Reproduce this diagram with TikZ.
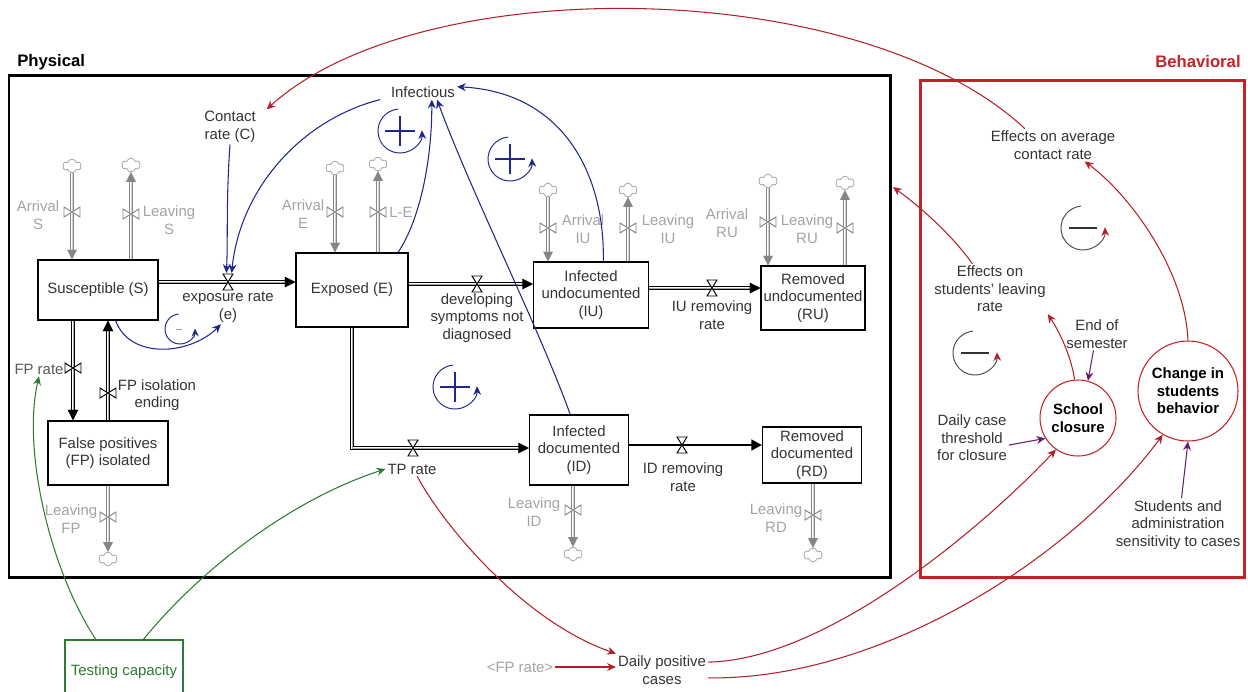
\documentclass[tikz,border=0pt]{standalone}
\usepackage{fontspec}
\setmainfont{Liberation Sans}
\usetikzlibrary{arrows.meta,shapes.symbols}
\definecolor{navy}{HTML}{1F268C}
\definecolor{crim}{HTML}{B51F2B}
\definecolor{boxred}{HTML}{C62127}
\definecolor{grn}{HTML}{2F7A32}
\definecolor{plum}{HTML}{6A1C6E}
\definecolor{txt}{HTML}{333333}
\definecolor{lgray}{HTML}{A3A3A3}
\definecolor{pgray}{HTML}{858585}

\begin{document}
\begin{tikzpicture}[
    x=0.02cm, y=-0.02cm,
    fs/.style={font=\fontsize{8.5}{10}\selectfont},
    stock/.style={rectangle,draw,line width=0.6pt,align=center,inner sep=1pt,fs,text=txt},
    lbl/.style={align=center,inner sep=1pt,fs,text=txt},
    glbl/.style={align=center,inner sep=1pt,fs,text=lgray},
    circ/.style={circle,draw=boxred,line width=0.6pt,align=center,inner sep=0pt,font=\fontsize{8.5}{10}\selectfont\bfseries},
    ttl/.style={inner sep=0pt,font=\fontsize{9.5}{11}\selectfont\bfseries},
    puff/.style={cloud,cloud puffs=6,draw=lgray,line width=0.45pt,aspect=1.3,inner sep=0pt,minimum width=0.36cm,minimum height=0.27cm},
    pipe/.style={draw=black,line width=2.4pt,shorten >=3pt,
        postaction={draw=white,line width=1.3pt,shorten >=3pt},
        postaction={draw=black,line width=0.01pt,shorten >=0pt,-{Triangle[length=6pt,width=6pt]}}},
    gpipe/.style={draw=pgray,line width=2.3pt,shorten >=3pt,
        postaction={draw=white,line width=1.1pt,shorten >=3pt},
        postaction={draw=pgray,line width=0.01pt,shorten >=0pt,-{Triangle[length=5.5pt,width=5.5pt]}}},
    thk/.style={line width=1.5pt,-{Triangle[length=6pt,width=6pt]}},
    lnk/.style={line width=0.6pt,-{Stealth[length=5pt,width=4.5pt]}},
    vlvh/.pic={\filldraw[fill=white,line width=0.55pt] (-5,-8) -- (5,-8) -- (-5,8) -- (5,8) -- cycle;},
    vlvv/.pic={\filldraw[fill=white,line width=0.55pt] (-8,-5) -- (-8,5) -- (8,-5) -- (8,5) -- cycle;},
    lplus/.pic={\draw[line width=0.55pt,-{Stealth[length=5pt,width=4.5pt]}] (-95:22) arc[start angle=-95,end angle=-362,radius=22];
        \draw[line width=0.7pt] (-15,0) -- (15,0) (0,-15) -- (0,15);},
    lminus/.pic={\draw[black!70,line width=0.55pt,-{Stealth[length=5pt,width=4.5pt,color=crim]}] (-95:22) arc[start angle=-95,end angle=-362,radius=22];
        \draw[black!80,line width=0.6pt] (-14,0) -- (14,0);},
    lsmall/.pic={\draw[navy,line width=0.55pt,-{Stealth[length=4.5pt,width=4pt]}] (-95:15) arc[start angle=-95,end angle=-362,radius=15];
        \draw[lgray,line width=0.5pt] (-4,0) -- (2,0);}
]
\useasboundingbox (0,0) rectangle (1248,691);

\node[ttl,anchor=west] (tphys) at (17,62) {Physical};
\node[ttl,anchor=east,text=boxred] (tbeh) at (1241,62) {Behavioral};
\draw[line width=1.7pt] (9,75) rectangle (890,577);
\draw[boxred,line width=1.7pt] (920,80) rectangle (1244,577);
\coordinate (physR) at (893,187);

\node[stock,minimum width=2.4cm,minimum height=1.2cm] (S) at (98,290) {Susceptible (S)};
\node[stock,minimum width=2.24cm,minimum height=1.48cm] (E) at (352,290) {Exposed (E)};
\node[stock,minimum width=2.3cm,minimum height=1.32cm] (IU) at (591,295) {Infected\\undocumented\\(IU)};
\node[stock,minimum width=2.08cm,minimum height=1.28cm] (RU) at (813,298) {Removed\\undocumented\\(RU)};
\node[stock,minimum width=2.4cm,minimum height=1.28cm] (FP) at (108,453) {False positives\\(FP) isolated};
\node[stock,minimum width=1.98cm,minimum height=1.4cm] (ID) at (579,450) {Infected\\documented\\(ID)};
\node[stock,minimum width=1.98cm,minimum height=1.12cm] (RD) at (812,455) {Removed\\documented\\(RD)};

\coordinate (ve) at (228,282);
\coordinate (veT) at (229,273);
\coordinate (vd) at (477,284);
\coordinate (vi) at (712,288);
\coordinate (vt) at (413,448);
\coordinate (vr) at (682,445);
\coordinate (vf) at (73,368);
\coordinate (vx) at (108,393);

\draw[pipe] (S.east |- ve) -- (E.west |- ve);
\draw[pipe] (E.east |- vd) -- (IU.west |- vd);
\draw[pipe] (IU.east |- vi) -- (RU.west |- vi);
\draw[pipe] (E.south) |- (ID.west |- vt);
\draw[thk] (ID.east |- vr) -- (RD.west |- vr);
\draw[pipe] (S.south -| vf) -- (FP.north -| vf);
\draw[pipe] (FP.north -| vx) -- (S.south -| vx);
\pic at (ve) {vlvh};
\pic at (vd) {vlvh};
\pic at (vi) {vlvh};
\pic at (vt) {vlvh};
\pic at (vr) {vlvh};
\pic at (vf) {vlvv};
\pic at (vx) {vlvv};

\node[puff] (cAS) at (72,166) {};
\node[puff] (cLS) at (131,165) {};
\node[puff] (cAE) at (335,168) {};
\node[puff] (cLE) at (378,164) {};
\node[puff] (cAIU) at (548,190) {};
\node[puff] (cLIU) at (628,190) {};
\node[puff] (cARU) at (768,181) {};
\node[puff] (cLRU) at (845,183) {};
\node[puff] (cLFP) at (108,559) {};
\node[puff] (cLID) at (573,554) {};
\node[puff] (cLRD) at (813,555) {};

\draw[gpipe] (cAS.south) -- (cAS.south |- S.north);
\draw[gpipe] (S.north -| cLS) -- (cLS.south);
\draw[gpipe] (cAE.south) -- (cAE.south |- E.north);
\draw[gpipe] (E.north -| cLE) -- (cLE.south);
\draw[gpipe] (cAIU.south) -- (cAIU.south |- IU.north);
\draw[gpipe] (IU.north -| cLIU) -- (cLIU.south);
\draw[gpipe] (cARU.south) -- (cARU.south |- RU.north);
\draw[gpipe] (RU.north -| cLRU) -- (cLRU.south);
\draw[gpipe] (FP.south -| cLFP) -- (cLFP.north);
\draw[gpipe] (ID.south -| cLID) -- (cLID.north);
\draw[gpipe] (RD.south -| cLRD) -- (cLRD.north);
\pic[pgray] at (72,212) {vlvv};
\pic[pgray] at (131,214) {vlvv};
\pic[pgray] at (335,212) {vlvv};
\pic[pgray] at (378,212) {vlvv};
\pic[pgray] at (548,228) {vlvv};
\pic[pgray] at (628,228) {vlvv};
\pic[pgray] at (768,222) {vlvv};
\pic[pgray] at (845,228) {vlvv};
\pic[pgray] at (108,517) {vlvv};
\pic[pgray] at (573,510) {vlvv};
\pic[pgray] at (813,515) {vlvv};

\node[glbl] (lAS) at (38,215) {Arrival\\S};
\node[glbl] (lLS) at (169,220) {Leaving\\S};
\node[glbl] (lAE) at (303,214) {Arrival\\E};
\node[glbl] (lLE) at (401,212) {L-E};
\node[glbl] (lAIU) at (583,229) {Arrival\\IU};
\node[glbl] (lLIU) at (668,229) {Leaving\\IU};
\node[glbl] (lARU) at (727,223) {Arrival\\RU};
\node[glbl] (lLRU) at (807,229) {Leaving\\RU};
\node[glbl] (lLFP) at (71,519) {Leaving\\FP};
\node[glbl] (lLID) at (534,512) {Leaving\\ID};
\node[glbl] (lLRD) at (776,518) {Leaving\\RD};

\node[lbl] (er) at (228,307) {exposure rate\\(e)};
\node[lbl] (dsn) at (477,318) {developing\\symptoms not\\diagnosed};
\node[lbl] (iur) at (712,315) {IU removing\\rate};
\node[lbl] (tpr) at (412,469) {TP rate};
\node[lbl] (idr) at (683,477) {ID removing\\rate};
\node[lbl,text=black!65] (fpr) at (39,369) {FP rate};
\node[lbl] (fpe) at (157,395) {FP isolation\\ending};
\node[lbl] (cr) at (230,127) {Contact\\rate (C)};
\node[lbl] (inf) at (423,92) {Infectious};

\node[lbl] (eac) at (1053,145) {Effects on average\\contact rate};
\node[lbl] (esl) at (990,289) {Effects on\\students' leaving\\rate};
\node[lbl] (eos) at (1097,334) {End of\\semester};
\node[lbl] (dct) at (972,438) {Daily case\\threshold\\for closure};
\node[lbl] (sas) at (1178,525) {Students and\\administration\\sensitivity to cases};
\node[circ,minimum size=1.52cm] (sc) at (1078,418) {School\\closure};
\node[circ,minimum size=2cm] (ch) at (1188,391) {Change in\\students\\behavior};
\node[lbl] (dpc) at (662,670) {Daily positive\\cases};
\node[glbl] (fpr2) at (520,667) {<FP rate>};
\node[rectangle,draw=grn,line width=0.6pt,fs,text=grn,minimum width=2.36cm,minimum height=1.28cm] (tc) at (124,672) {Testing capacity};

\pic[navy] at (400,131) {lplus};
\pic[navy] at (510,159) {lplus};
\pic[navy] at (455,387) {lplus};
\pic at (180,329) {lsmall};
\pic at (1083,228) {lminus};
\pic at (975,353) {lminus};

\draw[lnk,navy] (cr.south) .. controls (226,200) and (228,240) .. ([xshift=-1.5pt]veT);
\draw[lnk,navy] ([xshift=-5pt]inf.south west) .. controls (300,120) and (240,190) .. ([xshift=1.5pt]veT);
\draw[lnk,navy] ([xshift=-6pt]E.north east) .. controls (420,220) and (432,160) .. ([xshift=5pt]inf.south);
\draw[lnk,navy] ([xshift=-5pt]ID.north) .. controls (540,330) and (470,190) .. ([xshift=8pt]inf.south);
\draw[lnk,navy] ([xshift=7pt]IU.north) .. controls (605,170) and (560,92) .. ([yshift=3pt]inf.east);
\draw[lnk,navy] ([xshift=10pt]S.south) .. controls (130,360) and (190,355) .. ([xshift=-4pt]er.south);

\draw[lnk,crim] ([xshift=-16pt]eac.north) .. controls (860,-25) and (420,-30) .. ([xshift=5pt]cr.north east);
\draw[lnk,crim] ([xshift=-10pt]esl.north) .. controls (950,232) and (915,203) .. (physR);
\draw[lnk,crim] (sc.95) .. controls (1070,350) and (1055,325) .. (esl.south east);
\draw[lnk,crim] (ch.north) .. controls (1185,270) and (1130,195) .. ([xshift=18pt]eac.south);
\draw[lnk,crim] ([yshift=4.5pt]dpc.east) .. controls (830,660) and (990,520) .. (sc.235);
\draw[lnk,crim] ([yshift=-4.5pt]dpc.east) .. controls (880,680) and (1070,560) .. (ch.240);
\draw[lnk,crim] ([xshift=3pt]tpr.south) .. controls (440,520) and (520,620) .. (dpc.north west);
\draw[lnk,crim] (fpr2.east) -- (fpr2.east -| dpc.west);

\draw[lnk,grn] ([xshift=-16pt]tc.north) .. controls (50,570) and (22,450) .. (fpr.south);
\draw[lnk,grn] ([xshift=11pt]tc.north) .. controls (200,570) and (290,500) .. (tpr.west);

\draw[lnk,plum] ([xshift=-2pt]eos.south) -- (sc.75);
\draw[lnk,plum] ([yshift=-4pt]dct.east) -- (sc.212);
\draw[lnk,plum] ([xshift=2pt]sas.north) -- (ch.south);
\end{tikzpicture}
\end{document}
